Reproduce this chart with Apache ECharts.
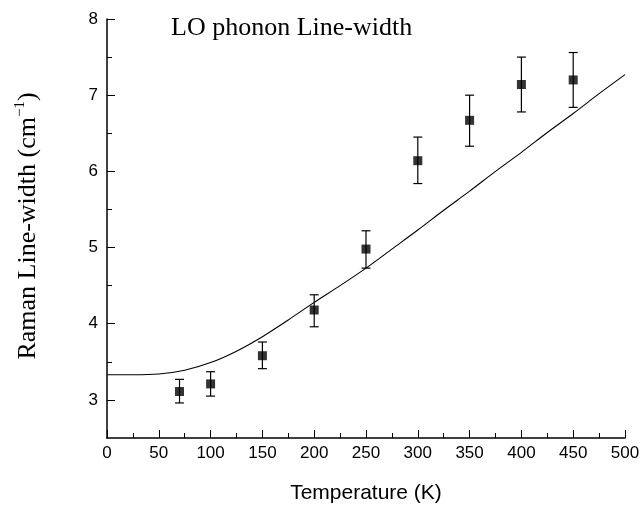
<!DOCTYPE html>
<html><head><meta charset="utf-8">
<script src="https://cdn.jsdelivr.net/npm/echarts@6/dist/echarts.min.js"></script>
<style>html,body{margin:0;padding:0;background:#fff}#c{width:643px;height:509px}</style>
</head><body><div id="c"></div>
<script>
// Measured data (Temperature in K, Raman line-width in cm^-1)
const temperatures = [70, 100, 150, 200, 250, 300, 350, 400, 450];
const linewidth    = [3.11, 3.21, 3.58, 4.18, 4.98, 6.14, 6.67, 7.14, 7.20];
const errLow       = [2.96, 3.05, 3.41, 3.96, 4.73, 5.84, 6.33, 6.78, 6.84];
const errHigh      = [3.27, 3.37, 3.76, 4.38, 5.22, 6.45, 7.00, 7.50, 7.56];
// Fit curve
const fitT = [0, 25, 50, 75, 100, 125, 150, 175, 200, 225, 250, 275, 300, 325, 350, 375, 400, 425, 450, 475, 500];
const fitW = [3.33, 3.33, 3.34, 3.39, 3.49, 3.64, 3.83, 4.05, 4.28, 4.50, 4.73, 4.98, 5.23, 5.49, 5.74, 6.00, 6.25, 6.51, 6.76, 7.02, 7.27];
// Axis ticks
const yMajor = [3, 4, 5, 6, 7, 8];
const yMinor = [3.5, 4.5, 5.5, 6.5, 7.5];
const titleText = 'LO phonon Line-width';
const xName = 'Temperature (K)';

const chart = echarts.init(document.getElementById('c'), null, {renderer: 'canvas'});
const sans = 'Liberation Sans';
const serif = 'Liberation Serif';
const axisLine = {show: true, lineStyle: {color: '#000', width: 1.5}};

const option = {
  animation: false,
  backgroundColor: '#fff',
  grid: {left: 107, right: 18, top: 19, bottom: 71, containLabel: false},
  graphic: [
    {type: 'text', left: 171, top: 15, style: {text: titleText, font: '26px "Liberation Serif"', fill: '#000'}},
    {type: 'text', x: 28, y: 226, rotation: Math.PI / 2,
      style: {text: '{a|Raman Line-width (cm}{s|−1}{a|)}', align: 'center', verticalAlign: 'middle', fill: '#000',
        rich: {a: {fontFamily: serif, fontSize: 26, lineHeight: 30, fill: '#000'},
               s: {fontFamily: serif, fontSize: 15, lineHeight: 15, verticalAlign: 'top', fill: '#000'}}}}
  ],
  xAxis: {
    type: 'value', min: 0, max: 500, interval: 50,
    axisLine: axisLine,
    axisTick: {show: true, inside: true, length: 8, lineStyle: {color: '#000', width: 1}},
    minorTick: {show: true, splitNumber: 2, length: 5, lineStyle: {color: '#000', width: 1}},
    axisLabel: {color: '#000', fontFamily: sans, fontSize: 17, margin: 7},
    splitLine: {show: false},
    name: xName, nameLocation: 'middle', nameGap: 45,
    nameTextStyle: {color: '#000', fontFamily: sans, fontSize: 21}
  },
  yAxis: [
    {
      type: 'value', min: 2.5, max: 8, position: 'left',
      axisLine: axisLine,
      axisTick: {show: true, inside: true, length: 8, customValues: yMajor, lineStyle: {color: '#000', width: 1}},
      axisLabel: {color: '#000', fontFamily: sans, fontSize: 17, margin: 9, customValues: yMajor},
      splitLine: {show: false}
    },
    {
      type: 'value', min: 2.5, max: 8, position: 'left', offset: 0,
      axisLine: {show: false},
      axisTick: {show: true, inside: true, length: 5, customValues: yMinor, lineStyle: {color: '#000', width: 1}},
      axisLabel: {show: false},
      splitLine: {show: false}
    }
  ],
  series: [
    {
      type: 'line', data: fitT.map((t, i) => [t, fitW[i]]), smooth: 0.3, showSymbol: false,
      lineStyle: {color: '#000', width: 1.1}, z: 2
    },
    {
      type: 'custom', z: 3,
      data: temperatures.map((t, i) => [t, errLow[i], errHigh[i]]),
      renderItem: function (params, api) {
        const x = api.value(0);
        const lo = api.coord([x, api.value(1)]);
        const hi = api.coord([x, api.value(2)]);
        const hw = 4.5;
        const st = {stroke: '#000', lineWidth: 1.2};
        return {type: 'group', children: [
          {type: 'line', shape: {x1: lo[0], y1: lo[1], x2: hi[0], y2: hi[1]}, style: st},
          {type: 'line', shape: {x1: lo[0] - hw, y1: lo[1], x2: lo[0] + hw, y2: lo[1]}, style: st},
          {type: 'line', shape: {x1: hi[0] - hw, y1: hi[1], x2: hi[0] + hw, y2: hi[1]}, style: st}
        ]};
      }
    },
    {
      type: 'scatter', z: 4, symbol: 'rect', symbolSize: 9,
      data: temperatures.map((t, i) => [t, linewidth[i]]),
      itemStyle: {color: '#000'}
    }
  ]
};
chart.setOption(option);
</script></body></html>
